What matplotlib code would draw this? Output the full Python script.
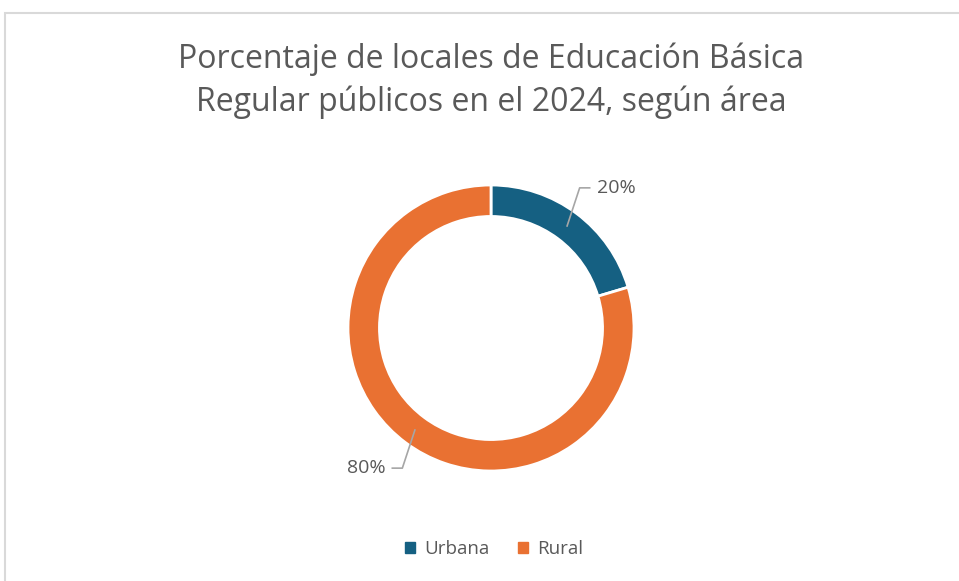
import numpy as np
import matplotlib
matplotlib.use("Agg")
import matplotlib.pyplot as plt
from matplotlib.patches import Rectangle

# data
categories = ["Urbana", "Rural"]
values = [20.4, 79.6]
colors = ["#156082", "#E97132"]
title = "Porcentaje de locales de Educación Básica\nRegular públicos en el 2024, según área"

plt.rcParams['font.family'] = ['Open Sans', 'DejaVu Sans']
txt_col = "#595959"

fig = plt.figure(figsize=(9.59, 5.81), dpi=100)
W, H = 959, 581

# outer chart frame (only top and left edges visible)
fig.add_artist(Rectangle((5 / W, -0.1), 1.2, (H - 13) / H + 0.1, transform=fig.transFigure,
                         fill=False, edgecolor="#D9D9D9", linewidth=1.5))

# axes placed so donut centre ~ (491, 328) px and radius 143 px
R = 143
lim = 1.5
side = 2 * lim * R
ax = fig.add_axes([(491 - side / 2) / W, (H - 328 - side / 2) / H, side / W, side / H])
wedges, _ = ax.pie(values, colors=colors, startangle=90, counterclock=False,
                   wedgeprops=dict(width=0.22, edgecolor="white", linewidth=2))
ax.set_xlim(-lim, lim)
ax.set_ylim(-lim, lim)
ax.set_aspect("equal")
ax.axis("off")

# leader lines and labels
for w, v in zip(wedges, values):
    ang = np.deg2rad((w.theta1 + w.theta2) / 2)
    px, py = 0.89 * np.cos(ang), 0.89 * np.sin(ang)
    sx, sy = np.sign(px), np.sign(py)
    ly = 0.98 * sy
    ax.plot([px, 0.62 * sx, 0.69 * sx], [py, ly, ly], color="#A6A6A6", lw=1.2)
    ax.text(0.74 * sx, ly, f"{v:.0f}%", ha="left" if sx > 0 else "right", va="center",
            fontsize=14, color=txt_col)

fig.text(491 / W, 1 - 81 / H, title, ha="center", va="center", fontsize=23,
         color=txt_col, linespacing=1.38)

handles = [Rectangle((0, 0), 1, 1, color=c) for c in colors]
fig.legend(handles, categories, loc="center", bbox_to_anchor=(494 / W, 1 - 549 / H),
           ncol=2, frameon=False, fontsize=13.5, labelcolor=txt_col,
           handlelength=0.55, handleheight=0.55, handletextpad=0.5, columnspacing=1.5)

fig.savefig("out.png", dpi=100)
